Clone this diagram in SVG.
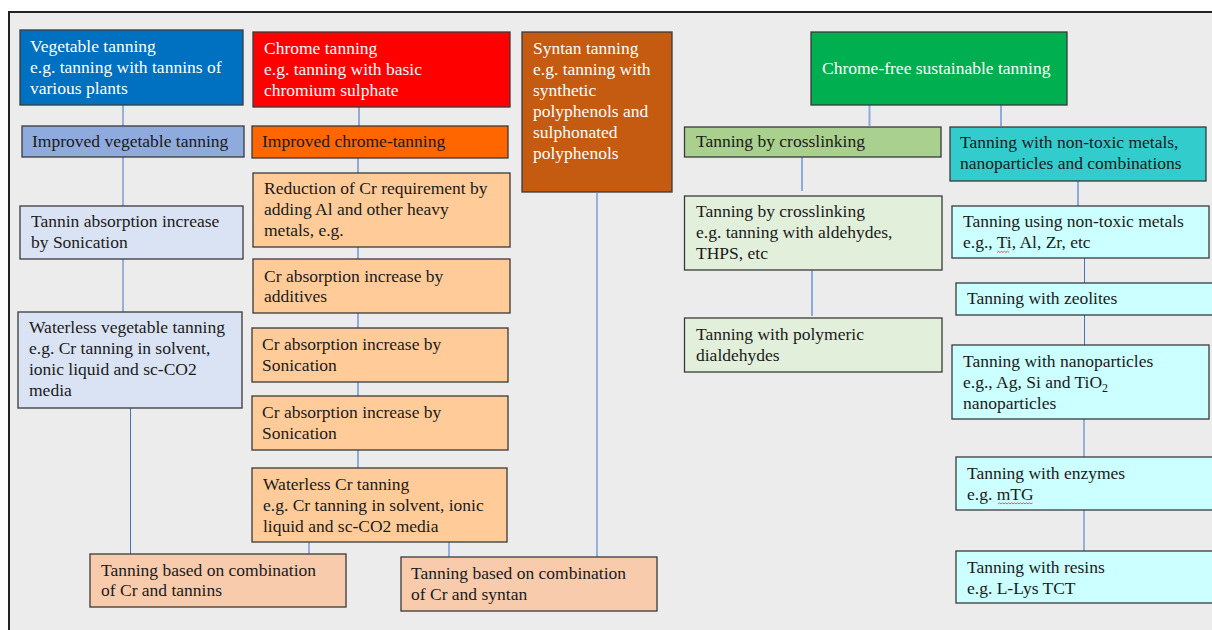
<svg xmlns="http://www.w3.org/2000/svg" width="1212" height="630" viewBox="0 0 1212 630">
<style>
.bx{stroke:#3a3a3a;stroke-width:1.3}
.t{font-family:"Liberation Serif","Times New Roman",serif;font-size:17.5px;fill:#1a1a1a}
.w{fill:#ffffff}
.c{stroke:#4472c4;stroke-width:1;fill:none}
.cl{stroke:#8faadc;stroke-width:2;fill:none}
.sp{stroke:#e03030;stroke-width:0.8;fill:none}
</style>
<rect x="0" y="0" width="1212" height="630" fill="#ffffff"/>
<rect x="9" y="12" width="1203" height="618" fill="#ececec"/>
<path d="M8 12H1212M9 12V630" stroke="#222" stroke-width="2" fill="none"/>
<g id="connectors">
<path class="c" d="M123 105V126M123 157V206M123 259V312M130.5 408V554"/>
<path class="cl" d="M359 107V126M358 158V173M358 247V259M358 313V328M358 382V396M358 450V468"/>
<path class="c" d="M309 542V554M449 542V557M597 193V557"/>
<path class="cl" d="M869.5 105V126M1001 105V126M802 157V191M812 270V316M1078 181V206"/>
<path class="c" d="M1084.5 258V283M1084.5 315V345M1084 419V457M1084 510V551"/>
</g>
<g id="veg">
<rect class="bx" x="20" y="30" width="223" height="75" fill="#0070c0"/>
<text class="t w"><tspan x="30" y="52">Vegetable tanning</tspan><tspan x="30" y="73">e.g. tanning with tannins of</tspan><tspan x="30" y="94">various plants</tspan></text>
</g>
<g id="chrome">
<rect class="bx" x="253" y="32" width="257" height="75" fill="#ff0000"/>
<text class="t w"><tspan x="264" y="54">Chrome tanning</tspan><tspan x="264" y="75">e.g. tanning with basic</tspan><tspan x="264" y="96">chromium sulphate</tspan></text>
</g>
<g id="syntan">
<rect class="bx" x="522" y="32" width="150" height="160" fill="#c55a11"/>
<text class="t w"><tspan x="533" y="54">Syntan tanning</tspan><tspan x="533" y="75">e.g. tanning with</tspan><tspan x="533" y="96">synthetic</tspan><tspan x="533" y="117">polyphenols and</tspan><tspan x="533" y="138">sulphonated</tspan><tspan x="533" y="159">polyphenols</tspan></text>
</g>
<g id="chromefree">
<rect class="bx" x="811" y="32" width="256" height="73" fill="#00b050"/>
<text class="t w" x="822" y="74">Chrome-free sustainable tanning</text>
</g>
<g id="impveg">
<rect class="bx" x="22" y="126" width="222" height="31" fill="#8faadc"/>
<text class="t" x="32" y="147">Improved vegetable tanning</text>
</g>
<g id="impchrome">
<rect class="bx" x="252" y="126" width="256" height="32" fill="#ff6600"/>
<text class="t" x="262" y="147">Improved chrome-tanning</text>
</g>
<g id="tanninsonic">
<rect class="bx" x="20" y="206" width="223" height="53" fill="#dae3f3"/>
<text class="t"><tspan x="31" y="227">Tannin absorption increase</tspan><tspan x="31" y="248">by Sonication</tspan></text>
</g>
<g id="waterlessveg">
<rect class="bx" x="18" y="312" width="224" height="96" fill="#dae3f3"/>
<text class="t"><tspan x="29" y="333">Waterless vegetable tanning</tspan><tspan x="29" y="354">e.g. Cr tanning in solvent,</tspan><tspan x="29" y="375">ionic liquid and sc-CO2</tspan><tspan x="29" y="396">media</tspan></text>
</g>
<g id="reduction">
<rect class="bx" x="253" y="173" width="257" height="74" fill="#ffcc99"/>
<text class="t"><tspan x="264" y="194">Reduction of Cr requirement by</tspan><tspan x="264" y="215">adding Al and other heavy</tspan><tspan x="264" y="236">metals, e.g.</tspan></text>
</g>
<g id="additives">
<rect class="bx" x="253" y="259" width="257" height="54" fill="#ffcc99"/>
<text class="t"><tspan x="264" y="282">Cr absorption increase by</tspan><tspan x="264" y="302">additives</tspan></text>
</g>
<g id="sonic1">
<rect class="bx" x="252" y="328" width="256" height="54" fill="#ffcc99"/>
<text class="t"><tspan x="262" y="350">Cr absorption increase by</tspan><tspan x="262" y="371">Sonication</tspan></text>
</g>
<g id="sonic2">
<rect class="bx" x="252" y="396" width="256" height="54" fill="#ffcc99"/>
<text class="t"><tspan x="262" y="418">Cr absorption increase by</tspan><tspan x="262" y="439">Sonication</tspan></text>
</g>
<g id="waterlesscr">
<rect class="bx" x="252" y="468" width="255" height="74" fill="#ffcc99"/>
<text class="t"><tspan x="263" y="490">Waterless Cr tanning</tspan><tspan x="263" y="511">e.g. Cr tanning in solvent, ionic</tspan><tspan x="263" y="532">liquid and sc-CO2 media</tspan></text>
</g>
<g id="combtannins">
<rect class="bx" x="90" y="554" width="256" height="53" fill="#f8cbad"/>
<text class="t"><tspan x="101" y="576">Tanning based on combination</tspan><tspan x="101" y="596">of Cr and tannins</tspan></text>
</g>
<g id="combsyntan">
<rect class="bx" x="401" y="557" width="256" height="54" fill="#f8cbad"/>
<text class="t"><tspan x="411" y="579">Tanning based on combination</tspan><tspan x="411" y="600">of Cr and syntan</tspan></text>
</g>
<g id="crosslink">
<rect class="bx" x="684.5" y="127" width="256.5" height="30" fill="#a9d08e"/>
<text class="t" x="696" y="147">Tanning by crosslinking</text>
</g>
<g id="nontoxic">
<rect class="bx" x="950" y="127" width="256" height="54" fill="#33cccc"/>
<text class="t"><tspan x="960" y="148">Tanning with non-toxic metals,</tspan><tspan x="960" y="169">nanoparticles and combinations</tspan></text>
</g>
<g id="crosslink2">
<rect class="bx" x="684.5" y="196" width="257.5" height="74" fill="#e2efda"/>
<text class="t"><tspan x="696" y="217">Tanning by crosslinking</tspan><tspan x="696" y="238">e.g. tanning with aldehydes,</tspan><tspan x="696" y="259">THPS, etc</tspan></text>
</g>
<g id="polymeric">
<rect class="bx" x="684.5" y="318" width="257.5" height="54" fill="#e2efda"/>
<text class="t"><tspan x="696" y="340">Tanning with polymeric</tspan><tspan x="696" y="361">dialdehydes</tspan></text>
</g>
<g id="metals">
<rect class="bx" x="952" y="206" width="257" height="52" fill="#ccffff"/>
<text class="t"><tspan x="963" y="227">Tanning using non-toxic metals</tspan><tspan x="963" y="248">e.g., Ti, Al, Zr, etc</tspan></text>
<path class="sp" d="M997 252.5l1.5 -1.2l1.5 1.2l1.5 -1.2l1.5 1.2l1.5 -1.2l1.5 1.2l1.5 -1.2l1.5 1.2"/>
</g>
<g id="zeolites">
<rect class="bx" x="956" y="283" width="264" height="32" fill="#ccffff"/>
<text class="t" x="967" y="304">Tanning with zeolites</text>
</g>
<g id="nano">
<rect class="bx" x="952" y="345" width="257" height="74" fill="#ccffff"/>
<text class="t"><tspan x="963" y="367">Tanning with nanoparticles</tspan><tspan x="963" y="388">e.g., Ag, Si and TiO</tspan><tspan dy="4" font-size="12">2</tspan><tspan x="963" y="409">nanoparticles</tspan></text>
</g>
<g id="enzymes">
<rect class="bx" x="956" y="457" width="264" height="53" fill="#ccffff"/>
<text class="t"><tspan x="967" y="479">Tanning with enzymes</tspan><tspan x="967" y="500">e.g. mTG</tspan></text>
<path class="sp" d="M998 504l1.5 -1.2l1.5 1.2l1.5 -1.2l1.5 1.2l1.5 -1.2l1.5 1.2l1.5 -1.2l1.5 1.2l1.5 -1.2l1.5 1.2l1.5 -1.2l1.5 1.2l1.5 -1.2l1.5 1.2l1.5 -1.2l1.5 1.2l1.5 -1.2l1.5 1.2l1.5 -1.2l1.5 1.2l1.5 -1.2l1.5 1.2l1.5 -1.2"/>
</g>
<g id="resins">
<rect class="bx" x="956" y="551" width="264" height="52" fill="#ccffff"/>
<text class="t"><tspan x="967" y="573">Tanning with resins</tspan><tspan x="967" y="594">e.g. L-Lys TCT</tspan></text>
</g>
</svg>
